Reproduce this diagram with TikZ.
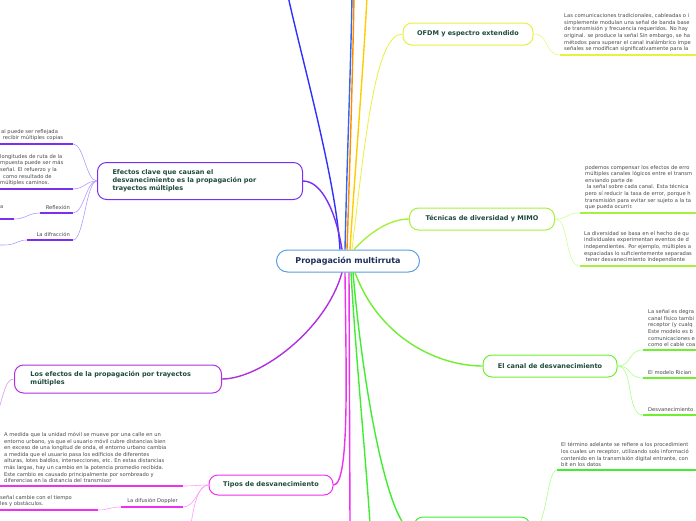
\documentclass[tikz,border=0pt]{standalone}
\usepackage{fontspec}
\setmainfont{DejaVu Sans}
\usetikzlibrary{positioning}

\definecolor{hubline}{HTML}{5AA0E0}
\definecolor{hubtext}{HTML}{1B2F5E}
\definecolor{topictext}{HTML}{1E4A3C}
\definecolor{notetext}{HTML}{484848}
\definecolor{violetc}{HTML}{7A30F0}
\definecolor{violetl}{HTML}{B39AFF}
\definecolor{purplec}{HTML}{B030E0}
\definecolor{purplel}{HTML}{D99AF2}
\definecolor{magentac}{HTML}{F030F0}
\definecolor{magental}{HTML}{FF99FF}
\definecolor{ofdmc}{HTML}{E8F040}
\definecolor{ofdml}{HTML}{F0F47A}
\definecolor{limec}{HTML}{A8F040}
\definecolor{limel}{HTML}{CCFF99}
\definecolor{greenc}{HTML}{70EE30}
\definecolor{greenl}{HTML}{A8FF88}
\definecolor{greend}{HTML}{40EE30}
\definecolor{bluec}{HTML}{3030FF}
\definecolor{blued}{HTML}{3366EE}
\definecolor{orangec}{HTML}{FF8A00}
\definecolor{yellowc}{HTML}{FFCC00}

\begin{document}
\begin{tikzpicture}[
    x=1pt, y=-1pt,
    topic/.style={draw, line width=1pt, rounded corners=9pt, fill=white, text=topictext,
        font=\fontsize{6.5}{8}\selectfont\bfseries, minimum height=22pt, inner xsep=0pt},
    wide/.style={align=left, text width=175pt, inner xsep=15pt},
    note/.style={anchor=south west, inner sep=0pt, align=left, text=notetext,
        font=\fontsize{5.2}{6.6}\selectfont},
    tag/.style={anchor=south east, inner sep=0pt, text=notetext, font=\fontsize{5.2}{6.6}\selectfont},
    trunk/.style={line width=1.4pt},
    twig/.style={line width=0.6pt},
    ruler/.style={line width=1.3pt}
]
    \clip (0,0) rectangle (696,520);

    % Central topic
    \node[topic, draw=hubline, text=hubtext, font=\fontsize{8}{10}\selectfont\bfseries,
        minimum width=143pt, rounded corners=11pt] (hub) at (348,261) {Propagación multirruta};

    % Main topics
    \node[topic, draw=ofdmc, minimum width=130pt] (ofdm) at (468,34) {OFDM y espectro extendido};
    \node[topic, draw=limec, minimum width=145pt] (tec) at (482,219) {Técnicas de diversidad y MIMO};
    \node[topic, draw=greenc, minimum width=134pt] (canal) at (550,366) {El canal de desvanecimiento};
    \node[topic, draw=greend, minimum width=116pt, minimum height=28pt] (bot) at (472,531) {};
    \node[topic, wide, draw=violetc, minimum height=37pt] (clave) at (200,181)
        {Efectos clave que causan el\\desvanecimiento es la propagación por\\trayectos múltiples};
    \node[topic, wide, draw=purplec, minimum height=28pt, inner xsep=16pt] (efx) at (118,379)
        {Los efectos de la propagación por trayectos\\múltiples};
    \node[topic, draw=magentac, minimum width=124pt, minimum height=20pt] (tipos) at (271,485) {Tipos de desvanecimiento};

    % Branches leaving the central topic
    \draw[trunk, bluec] ([xshift=-8pt]hub.north) .. controls (336,180) and (302,60) .. (288,-4);
    \draw[trunk, blued] ([xshift=-3pt]hub.north) .. controls (347,160) and (351,60) .. (352,-4);
    \draw[trunk, orangec] ([xshift=-1pt]hub.north) .. controls (350,160) and (353,60) .. (354,-4);
    \draw[trunk, yellowc] ([xshift=2pt]hub.north) .. controls (355,170) and (364,60) .. (367,-4);
    \draw[line width=0.8pt, ofdmc] ([xshift=4pt]hub.north) .. controls (366,130) and (376,34) .. (ofdm.west);
    \draw[trunk, limec] ([xshift=6pt]hub.north) .. controls (370,232) and (390,219) .. (tec.west);
    \draw[trunk, violetc] ([xshift=-6pt]hub.north) .. controls (336,212) and (322,181) .. (clave.east);
    \draw[trunk, purplec] ([xshift=-6pt]hub.south) .. controls (326,330) and (260,379) .. (efx.east);
    \draw[trunk, magentac] ([xshift=-3pt]hub.south) .. controls (346,370) and (350,485) .. (tipos.east);
    \draw[trunk, magentac] ([xshift=1pt]hub.south) -- (350,524);
    \draw[trunk, greend] ([xshift=3pt]hub.south) .. controls (356,360) and (366,460) .. (370,524);
    \draw[trunk, greend] ([xshift=5pt]hub.south) .. controls (364,400) and (390,531) .. (bot.west);
    \draw[trunk, greenc] ([xshift=7pt]hub.south) .. controls (380,340) and (440,366) .. (canal.west);

    % OFDM y espectro extendido
    \coordinate (o1) at (560,55);
    \draw[twig, ofdml] (ofdm.east) .. controls (550,34) and (544,55) .. (o1);
    \draw[ruler, ofdmc] (o1) -- +(140,0);
    \node[note] (o1t) at (564,52) {Las comunicaciones tradicionales, cableadas o i\\
        simplemente modulan una señal de banda base\\
        de transmisión y frecuencia requeridos. No hay\\
        original. se produce la señal Sin embargo, se ha\\
        métodos para superar el canal inalámbrico impe\\
        señales se modifican significativamente para la};

    % Tecnicas de diversidad y MIMO
    \coordinate (t1) at (580,213);
    \coordinate (t2) at (580,266);
    \draw[twig, limel] (tec.east) .. controls (568,219) and (566,213) .. (t1);
    \draw[twig, limel] (tec.east) .. controls (570,219) and (564,266) .. (t2);
    \draw[ruler, limec] (t1) -- +(120,0);
    \draw[ruler, limec] (t2) -- +(120,0);
    \node[note] (t1t) at (585,210) {podemos compensar los efectos de erro\\
        múltiples canales lógicos entre el transm\\
        enviando parte de\\
        \ la señal sobre cada canal. Esta técnica\\
        pero sí reducir la tasa de error, porque h\\
        transmisión para evitar ser sujeto a la ta\\
        que pueda ocurrir.};
    \node[note] (t2t) at (584,263) {La diversidad se basa en el hecho de qu\\
        individuales experimentan eventos de d\\
        independientes. Por ejemplo, múltiples a\\
        espaciadas lo suficientemente separadas\\
        \ tener desvanecimiento independiente};

    % El canal de desvanecimiento
    \coordinate (k1) at (643,350);
    \coordinate (k2) at (643,378);
    \coordinate (k3) at (643,415);
    \draw[twig, greenl] (canal.east) .. controls (632,366) and (628,350) .. (k1);
    \draw[twig, greenl] (canal.east) .. controls (632,366) and (628,378) .. (k2);
    \draw[twig, greenl] (canal.east) .. controls (634,366) and (626,415) .. (k3);
    \foreach \k in {k1,k2,k3}
        \draw[ruler, greenc] (\k) -- +(60,0);
    \node[note] (k1t) at (648,347) {La señal es degra\\canal físico tambi\\receptor (y cualq\\
        Este modelo es b\\comunicaciones e\\como el cable coa};
    \node[note] (k2t) at (648,375) {El modelo Rician};
    \node[note] (k3t) at (648,412) {Desvanecimiento};

    % Nodo inferior
    \coordinate (b1) at (557,470);
    \draw[twig, greenl] (bot.east) .. controls (548,531) and (546,470) .. (b1);
    \draw[ruler, greend] (b1) -- +(140,0);
    \node[note] (b1t) at (561,467) {El término adelante se refiere a los procedimient\\
        los cuales un receptor, utilizando solo informació\\
        contenido en la transmisión digital entrante, con\\
        bit en los datos};

    % Efectos clave
    \coordinate (e1) at (73,144);
    \coordinate (e2) at (73,189);
    \coordinate (e3) at (73,213);
    \coordinate (e4) at (73,240);
    \foreach \e in {e1,e2,e3,e4}
        \draw[twig, violetl] (clave.west) .. controls (86,181) and ([xshift=11pt]\e) .. (\e);
    \draw[ruler, violetc] (e1) -- +(-80,0);
    \draw[ruler, violetc] (e2) -- +(-80,0);
    \draw[ruler, violetc] (e3) -- (40,213) coordinate (e3b);
    \draw[ruler, violetc] (e4) -- (27,240) coordinate (e4b);
    \coordinate (e5) at (14,219);
    \draw[twig, violetl] (e3b) .. controls (28,213) and (26,219) .. (e5);
    \draw[ruler, violetc] (e5) -- +(-20,0);
    \draw[twig, violetl] (e4b) .. controls (18,240) and (16,245) .. (4,245) -- +(-10,0);
    \node[note] (e1t) at (1,141) {al puede ser reflejada\\\ recibir múltiples copias};
    \node[note] (e2t) at (0,186) {longitudes de ruta de la\\mpuesta puede ser más\\
        señal. El refuerzo y la\\\hspace{3pt}como resultado de\\múltiples caminos.};
    \node[tag] (e3t) at (70,210) {Reflexión};
    \node[note] (e5t) at (0,209) {a};
    \node[tag] (e4t) at (70,237) {La difracción};

    % Los efectos de la propagacion
    \draw[twig, purplel] (efx.west) .. controls (6,379) and (4,392) .. (-2,412);

    % Tipos de desvanecimiento
    \coordinate (p1) at (183,486);
    \coordinate (p2) at (183,507);
    \draw[twig, magental] (tipos.west) .. controls (198,485) and (194,486) .. (p1);
    \draw[twig, magental] (tipos.west) .. controls (198,485) and (196,507) .. (p2);
    \draw[twig, magental] (tipos.west) .. controls (198,485) and (194,505) .. (191,524);
    \draw[ruler, magentac] (p1) -- +(-190,0);
    \draw[ruler, magentac] (p2) -- (121,507) coordinate (p2b);
    \coordinate (p3) at (98,510);
    \draw[twig, magental] (p2b) .. controls (110,507) and (108,510) .. (p3);
    \draw[ruler, magentac] (p3) -- +(-105,0);
    \node[note] (p1t) at (4,483) {A medida que la unidad móvil se mueve por una calle en un\\
        entorno urbano, ya que el usuario móvil cubre distancias bien\\
        en exceso de una longitud de onda, el entorno urbano cambia\\
        a medida que el usuario pasa los edificios de diferentes\\
        alturas, lotes baldíos, intersecciones, etc. En estas distancias\\
        más largas, hay un cambio en la potencia promedio recibida.\\
        Este cambio es causado principalmente por sombreado y\\
        diferencias en la distancia del transmisor};
    \node[tag] (p2t) at (178,504) {La difusión Doppler};
    \node[note] (p3t) at (0,507) {señal cambie con el tiempo\\les y obstáculos.};
\end{tikzpicture}
\end{document}
